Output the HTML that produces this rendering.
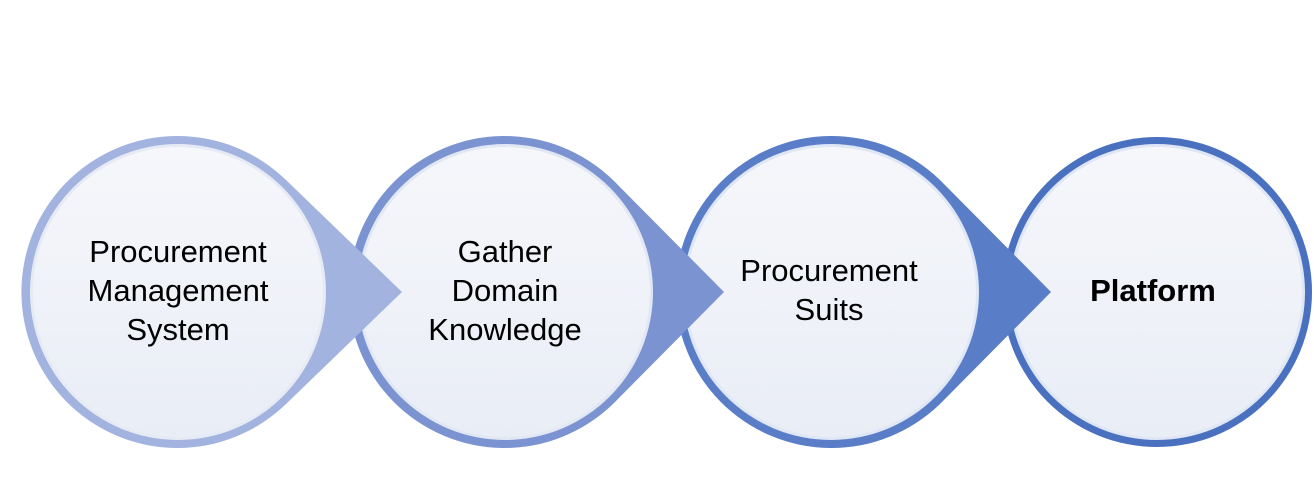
<!DOCTYPE html>
<html><head><meta charset="utf-8"><style>
html,body{margin:0;padding:0;background:#fff;}
svg{display:block;}
text{font-family:"Liberation Sans",sans-serif;font-size:31px;fill:#000;text-anchor:middle;}
</style></head><body>
<svg width="1314" height="478" viewBox="0 0 1314 478">
<defs>
<linearGradient id="in" x1="0" y1="0" x2="0" y2="1"><stop offset="0" stop-color="#f6f7fb"/><stop offset="1" stop-color="#e9edf6"/></linearGradient>
</defs>
<g>
<circle cx="1157" cy="292" r="155" fill="#4a70c0"/>
<circle cx="1157" cy="292" r="148" fill="#dfe6f5"/>
<circle cx="1157" cy="292" r="145" fill="url(#in)"/>
</g>
<g>
<path d="M1051 292 L940 180 A156 156 0 1 0 940 404 Z" fill="#5a7dc8"/>
<circle cx="831" cy="292" r="148" fill="#dfe6f5"/>
<circle cx="831" cy="292" r="145" fill="url(#in)"/>
</g>
<g>
<path d="M724 292 L613 180 A156 156 0 1 0 613 404 Z" fill="#7b93d0"/>
<circle cx="505" cy="292" r="148" fill="#e2e7f4"/>
<circle cx="505" cy="292" r="145" fill="url(#in)"/>
</g>
<g>
<path d="M402 292 L286 180 A156 156 0 1 0 286 404 Z" fill="#a3b3df"/>
<circle cx="178" cy="292" r="148" fill="#e6eaf5"/>
<circle cx="178" cy="292" r="145" fill="url(#in)"/>
</g>
<text x="178" y="262">Procurement</text>
<text x="178" y="301">Management</text>
<text x="178" y="340">System</text>
<text x="505" y="262">Gather</text>
<text x="505" y="301">Domain</text>
<text x="505" y="340">Knowledge</text>
<text x="829" y="281">Procurement</text>
<text x="829" y="320">Suits</text>
<text x="1153" y="301" font-weight="bold">Platform</text>
</svg>
</body></html>
